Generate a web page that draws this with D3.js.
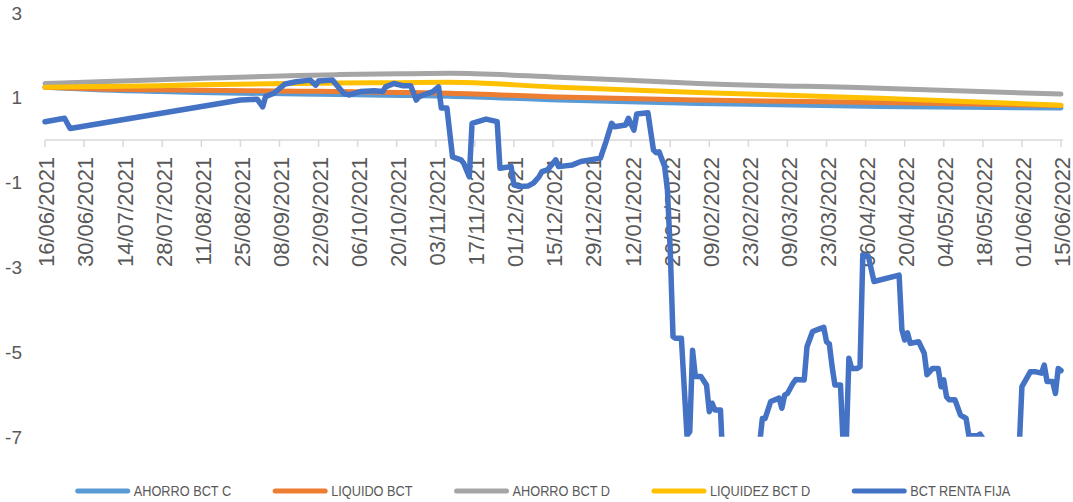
<!DOCTYPE html>
<html>
<head>
<meta charset="utf-8">
<script src="https://cdn.jsdelivr.net/npm/d3@7"></script>
<style>
  body { margin: 0; background: #fff; }
  svg { display: block; }
  .lbl { font-family: "Liberation Sans", Arial, sans-serif; fill: #595959; }
  .leg { font-family: "Liberation Sans", Arial, sans-serif; fill: #595959; }
</style>
</head>
<body>
<svg id="chart" width="1073" height="502"></svg>
<script>
const seriesNames = ['AHORRO BCT C', 'LIQUIDO BCT', 'AHORRO BCT D', 'LIQUIDEZ BCT D', 'BCT RENTA FIJA']
const seriesColors = ['#5B9BD5', '#ED7D31', '#A5A5A5', '#FFC000', '#4472C4']
const yTicks = [3, 1, -1, -3, -5, -7]

// fechas donde se leyeron las series suaves
const smoothDates = ['2021-06-16', '2021-07-05', '2021-07-27', '2021-08-10', '2021-09-15', '2021-09-29',
  '2021-10-21', '2021-11-08', '2021-12-17', '2022-02-05', '2022-04-11', '2022-06-15']
const ahorroC = [1.24, 1.18, 1.14, 1.12, 1.08, 1.07, 1.05, 1.03, 0.94, 0.86, 0.79, 0.75]
const liquido = [1.24, 1.20, 1.18, 1.17, 1.15, 1.14, 1.12, 1.10, 1.01, 0.94, 0.88, 0.81]
const ahorroD = [1.33, 1.37, 1.42, 1.45, 1.52, 1.54, 1.56, 1.57, 1.48, 1.33, 1.22, 1.08]
const liquidezD = [1.24, 1.26, 1.28, 1.30, 1.33, 1.34, 1.35, 1.36, 1.24, 1.12, 0.98, 0.82]

const rentaFija = [
  ['2021-06-16', 0.43], ['2021-06-23', 0.51], ['2021-06-25', 0.27], ['2021-08-25', 0.94],
  ['2021-08-31', 0.96], ['2021-09-02', 0.78], ['2021-09-03', 1.02], ['2021-09-06', 1.10],
  ['2021-09-10', 1.32], ['2021-09-14', 1.37], ['2021-09-19', 1.41], ['2021-09-21', 1.29],
  ['2021-09-22', 1.39], ['2021-09-27', 1.41], ['2021-10-01', 1.10], ['2021-10-03', 1.06],
  ['2021-10-07', 1.14], ['2021-10-12', 1.16], ['2021-10-15', 1.14], ['2021-10-16', 1.25],
  ['2021-10-19', 1.33], ['2021-10-22', 1.28], ['2021-10-25', 1.28], ['2021-10-27', 0.94],
  ['2021-10-28', 1.02], ['2021-11-02', 1.14], ['2021-11-04', 1.25], ['2021-11-05', 0.75],
  ['2021-11-07', 0.75], ['2021-11-09', -0.40], ['2021-11-12', -0.47], ['2021-11-13', -0.55],
  ['2021-11-15', -0.87], ['2021-11-16', 0.39], ['2021-11-21', 0.49], ['2021-11-25', 0.43],
  ['2021-11-26', -0.67], ['2021-11-30', -0.63], ['2021-12-01', -1.06], ['2021-12-03', -1.10],
  ['2021-12-06', -1.09], ['2021-12-08', -1.02], ['2021-12-10', -0.87], ['2021-12-11', -0.75],
  ['2021-12-13', -0.71], ['2021-12-16', -0.47], ['2021-12-17', -0.63], ['2021-12-22', -0.59],
  ['2021-12-25', -0.51], ['2022-01-01', -0.43], ['2022-01-03', -0.04], ['2022-01-05', 0.39],
  ['2022-01-06', 0.31], ['2022-01-10', 0.35], ['2022-01-11', 0.51], ['2022-01-13', 0.23],
  ['2022-01-14', 0.61], ['2022-01-18', 0.64], ['2022-01-20', -0.24], ['2022-01-21', -0.30],
  ['2022-01-22', -0.28], ['2022-01-24', -0.63], ['2022-01-25', -1.18], ['2022-01-26', -2.60],
  ['2022-01-27', -4.64], ['2022-01-28', -4.68], ['2022-01-30', -4.68], ['2022-02-01', -6.97],
  ['2022-02-02', -6.88], ['2022-02-03', -4.96], ['2022-02-04', -5.58], ['2022-02-06', -5.58],
  ['2022-02-08', -5.78], ['2022-02-09', -6.41], ['2022-02-10', -6.21], ['2022-02-11', -6.37],
  ['2022-02-13', -6.37], ['2022-02-14', -7.8], ['2022-02-20', -8.2], ['2022-02-26', -7.8],
  ['2022-02-28', -6.57], ['2022-03-01', -6.57], ['2022-03-03', -6.17], ['2022-03-06', -6.09],
  ['2022-03-07', -6.33], ['2022-03-08', -6.02], ['2022-03-09', -5.98], ['2022-03-11', -5.74],
  ['2022-03-12', -5.65], ['2022-03-15', -5.66], ['2022-03-16', -4.88], ['2022-03-18', -4.52],
  ['2022-03-20', -4.47], ['2022-03-22', -4.42], ['2022-03-23', -4.76], ['2022-03-24', -4.81],
  ['2022-03-25', -5.35], ['2022-03-26', -5.78], ['2022-03-28', -5.78], ['2022-03-29', -7.25],
  ['2022-03-30', -7.3], ['2022-03-31', -5.15], ['2022-04-01', -5.39], ['2022-04-03', -5.39],
  ['2022-04-04', -5.35], ['2022-04-05', -2.71], ['2022-04-07', -2.75], ['2022-04-09', -3.34],
  ['2022-04-18', -3.19], ['2022-04-19', -4.48], ['2022-04-20', -4.72], ['2022-04-21', -4.55],
  ['2022-04-22', -4.80], ['2022-04-25', -4.76], ['2022-04-27', -5.03], ['2022-04-28', -5.54],
  ['2022-04-30', -5.39], ['2022-05-02', -5.39], ['2022-05-03', -5.82], ['2022-05-04', -5.66],
  ['2022-05-05', -6.06], ['2022-05-06', -6.13], ['2022-05-08', -6.13], ['2022-05-10', -6.49],
  ['2022-05-12', -6.57], ['2022-05-13', -6.98], ['2022-05-16', -6.98], ['2022-05-17', -6.94],
  ['2022-05-18', -7.04], ['2022-05-19', -7.6], ['2022-05-25', -8.0], ['2022-05-31', -7.3],
  ['2022-06-01', -5.82], ['2022-06-04', -5.47], ['2022-06-06', -5.47], ['2022-06-08', -5.50],
  ['2022-06-09', -5.31], ['2022-06-10', -5.70], ['2022-06-12', -5.70], ['2022-06-13', -5.98],
  ['2022-06-14', -5.39], ['2022-06-15', -5.44],
]

const parse = d3.timeParse('%Y-%m-%d')
const fmt = d3.timeFormat('%d/%m/%Y')
const startDate = parse('2021-06-16')
const endDate = parse('2022-06-15')

const svg = d3.select('#chart')
const x = d3.scaleTime().domain([startDate, endDate]).range([45, 1061])
const y = d3.scaleLinear().domain([-7, 3]).range([436.7, 12.7])

// una marca cada 14 días desde el inicio
const xTicks = d3.range(0, d3.timeDay.count(startDate, endDate) + 1, 14)
  .map((n) => d3.timeDay.offset(startDate, n))

svg.append('defs').append('clipPath').attr('id', 'clip')
  .append('rect').attr('x', 0).attr('y', y(3) - 4).attr('width', 1073).attr('height', y(-7) - y(3) + 4)

// eje y: solo etiquetas
svg.append('g').selectAll('text').data(yTicks).join('text')
  .attr('class', 'lbl')
  .attr('x', 22)
  .attr('y', (d) => y(d))
  .attr('dy', '0.36em')
  .attr('text-anchor', 'end')
  .style('font-size', '19px')
  .text((d) => d)

// eje x en el cero
const xAxis = svg.append('g').attr('transform', `translate(0,${y(0)})`)
xAxis.append('line').attr('x1', x.range()[0]).attr('x2', x.range()[1] + 2)
  .attr('stroke', '#d9d9d9').attr('stroke-width', 1.5)
xAxis.selectAll('line.tick').data(xTicks).join('line')
  .attr('class', 'tick')
  .attr('x1', (d) => x(d)).attr('x2', (d) => x(d))
  .attr('y1', 0).attr('y2', 7)
  .attr('stroke', '#d9d9d9').attr('stroke-width', 1.5)
xAxis.selectAll('text').data(xTicks).join('text')
  .attr('class', 'lbl')
  .attr('transform', (d) => `translate(${x(d) + 1.5},17) rotate(-90)`)
  .attr('dy', '0.36em')
  .attr('text-anchor', 'end')
  .style('font-size', '22px')
  .text((d) => fmt(d))

const smoothSeries = [ahorroC, liquido, ahorroD, liquidezD].map((vals) =>
  vals.map((v, i) => ({ date: parse(smoothDates[i]), value: v })))
const rfSeries = rentaFija.map(([d, v]) => ({ date: parse(d), value: v }))

const smoothLine = d3.line().x((d) => x(d.date)).y((d) => y(d.value)).curve(d3.curveMonotoneX)
const rawLine = d3.line().x((d) => x(d.date)).y((d) => y(d.value))

const plot = svg.append('g').attr('clip-path', 'url(#clip)')
smoothSeries.forEach((s, i) => {
  plot.append('path')
    .datum(s)
    .attr('d', smoothLine)
    .attr('fill', 'none')
    .attr('stroke', seriesColors[i])
    .attr('stroke-width', 5)
    .attr('stroke-linecap', 'round')
    .attr('stroke-linejoin', 'round')
})
plot.append('path')
  .datum(rfSeries)
  .attr('d', rawLine)
  .attr('fill', 'none')
  .attr('stroke', seriesColors[4])
  .attr('stroke-width', 5.5)
  .attr('stroke-linecap', 'round')
  .attr('stroke-linejoin', 'round')

// leyenda centrada; el texto se estrecha para imitar una fuente condensada
const squeeze = 0.85
const legend = svg.append('g')
const items = legend.selectAll('g').data(seriesNames).join('g')
items.append('line')
  .attr('x1', 0).attr('x2', 50).attr('y1', 0).attr('y2', 0)
  .attr('stroke', (d, i) => seriesColors[i])
  .attr('stroke-width', 5)
  .attr('stroke-linecap', 'round')
items.append('text')
  .attr('class', 'leg')
  .attr('transform', `translate(56,0) scale(${squeeze},1)`)
  .attr('dy', '0.36em')
  .style('font-size', '15px')
  .text((d) => d)

const widths = []
items.each(function () {
  widths.push(56 + squeeze * d3.select(this).select('text').node().getComputedTextLength())
})
const gap = 44
const total = d3.sum(widths) + gap * (widths.length - 1)
let cursor = 544 - total / 2
items.attr('transform', (d, i) => {
  const t = `translate(${cursor},491)`
  cursor += widths[i] + gap
  return t
})
</script>
</body>
</html>
